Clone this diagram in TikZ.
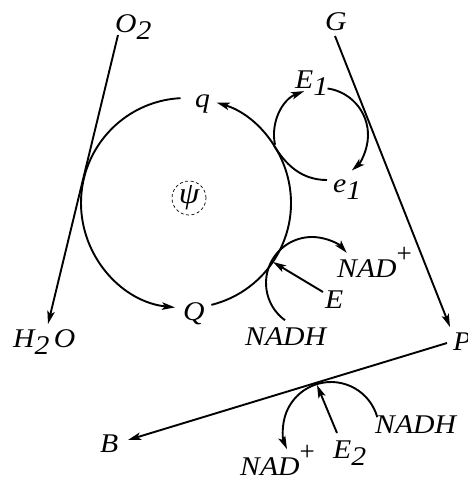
\documentclass[tikz,border=0pt]{standalone}
\usepackage{fontspec}
\setmainfont{Liberation Serif}
\newfontfamily\itf{Liberation Serif Italic}[FakeStretch=1.1]
\usetikzlibrary{arrows.meta}
\newcommand\dsub[1]{\raisebox{-7pt}{#1}}
\newcommand\dsup[1]{\raisebox{15pt}{\rmfamily\upshape #1}}
\begin{document}
\begin{tikzpicture}[x=1pt,y=-1pt,
  lbl/.style={inner sep=0pt, anchor=base west, font=\itf\fontsize{27}{27}\selectfont},
  ln/.style={line width=1.9pt},
  arr/.style={ln, -{Stealth[length=13pt,width=7.5pt,inset=3pt]}}
]
\useasboundingbox (0,0) rectangle (467,477);
% labels
\node[lbl] (O2) at (115,32) {O\dsub{2}};
\node[lbl] (G) at (325,30) {G};
\node[lbl] (E1) at (295,88) {E\dsub{1}};
\node[lbl] (q) at (195,107) {q};
\node[lbl] (e1) at (333,192) {e\dsub{1}};
\node[lbl] (Q) at (183,320) {Q};
\node[lbl] (H2O) at (13,347) {H\dsub{2}\,O};
\node[lbl] (NADp1) at (337,277) {NAD\dsup{+}};
\node[lbl] (E) at (325,308) {E};
\node[lbl] (NADH1) at (245,345) {NADH};
\node[lbl] (P) at (453,350) {P};
\node[lbl] (B) at (100,452) {B};
\node[lbl] (NADH2) at (375,433) {NADH};
\node[lbl] (NADp2) at (240,475) {NAD\dsup{+}};
\node[lbl] (E2) at (333,458) {E\dsub{2}};
\node[draw, circle, minimum size=34pt, inner sep=0pt, line width=0.7pt,
      dash pattern=on 3pt off 2.5pt, font=\itf\fontsize{30}{30}\selectfont] (psi) at (189,198) {ψ};
% key points
\coordinate (C) at (186,203);
\coordinate (S) at (321,135);
\coordinate (M) at (312,283);
\coordinate (N) at (331,430);
\coordinate (J1) at ([shift={(-33:105)}]C);
\coordinate (J2) at (273,262);
\coordinate (J3) at (317,385);
\coordinate (o2s) at (118,35);
\coordinate (h2ot) at (48,324);
\coordinate (gs) at (335,36);
\coordinate (pt) at (450,327);
\coordinate (ps) at (447,343);
\coordinate (bt) at (128,440);
\coordinate (es) at (323,292);
\coordinate (e2s) at (337,433);
\coordinate (e1w) at (327,180);
% big circle
\draw[arr] ([shift={(-93:105)}]C) arc[start angle=-93, end angle=-264, radius=105];
\draw[arr] ([shift={(76:105)}]C) arc[start angle=76, end angle=-73, radius=105];
% small loop E1 / e1
\draw[arr] ([shift={(168:47)}]S) arc[start angle=168, end angle=249, radius=47];
\draw[arr] ([shift={(-82:47)}]S) arc[start angle=-82, end angle=49, radius=47];
\draw[ln] (e1w) .. controls (300,180) and (285,163) .. (J1);
% NADH -> NAD+ with E
\draw[arr] ([shift={(126:46)}]M) arc[start angle=126, end angle=319, radius=46];
\draw[arr] (es) -- (J2);
% O2 -> H2O, G -> P
\draw[arr] (o2s) -- (h2ot);
\draw[arr] (gs) -- (pt);
% P -> B with E2
\draw[arr] (ps) -- (bt);
\draw[arr] ([shift={(-15.5:48)}]N) arc[start angle=-15.5, end angle=-203.5, radius=48];
\draw[arr] (e2s) -- (J3);
\end{tikzpicture}
\end{document}
